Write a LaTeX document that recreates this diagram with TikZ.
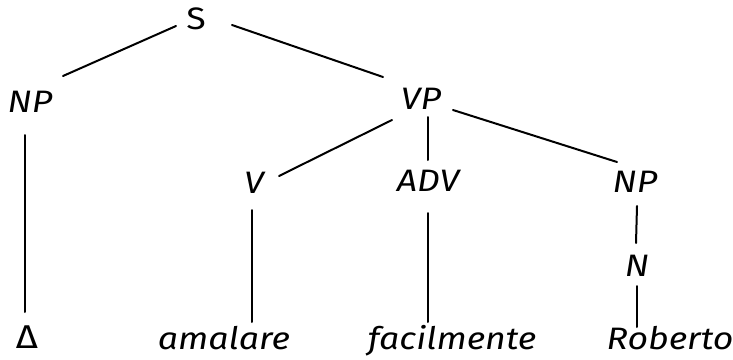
\documentclass[tikz,border=0pt]{standalone}
\usepackage{fontspec}
\setmainfont{Fira Sans}[FakeStretch=1.15]
\usetikzlibrary{calc}
\begin{document}
\begin{tikzpicture}[x=1pt,y=-1pt,
  cat/.style={inner sep=0pt, font=\fontsize{31}{32}\selectfont\itshape},
  word/.style={cat, anchor=base},
  edge/.style={line width=2pt, line cap=round}]
\useasboundingbox (0,0) rectangle (733,359);

% categories
\node[cat, font=\fontsize{31}{32}\selectfont] (S) at (196,19) {S};
\node[cat] (NPa) at (30,102) {NP};
\node[cat] (VP) at (421,99) {VP};
\node[cat] (V) at (254,183) {V};
\node[cat] (ADV) at (428,181) {ADV};
\node[cat] (NPb) at (635,182) {NP};
\node[cat] (N) at (637,266) {N};

% terminals
\node[cat, anchor=base, font=\fontsize{33}{34}\selectfont] (D) at (27,348) {Δ};
\node[word] (amalare) at (224,349) {amalare};
\node[word] (facilmente) at (452,349) {facilmente};
\node[word] (Roberto) at (670,349) {Roberto};

% branches
\draw[edge] ($(S)+(-20,7)$) -- ($(NPa)+(33,-26)$);
\draw[edge] ($(S)+(36,6)$) -- ($(VP)+(-38,-22)$);
\draw[edge] ($(NPa)+(-5,33)$) -- ($(D.base)+(-2,-36)$);
\draw[edge] ($(VP)+(-29,21)$) -- ($(V)+(25,-7)$);
\draw[edge] ($(VP)+(7,18)$) -- ($(ADV)+(0,-21)$);
\draw[edge] ($(VP)+(32,11)$) -- ($(NPb)+(-18,-20)$);
\draw[edge] ($(V)+(-2,27)$) -- ($(amalare.base)+(28,-27)$);
\draw[edge] ($(ADV)+(0,32)$) -- ($(facilmente.base)+(-24,-27)$);
\draw[edge] ($(NPb)+(2,24)$) -- ($(N)+(-1,-23)$);
\draw[edge] ($(N)+(0,20)$) -- ($(Roberto.base)+(-33,-22)$);
\end{tikzpicture}
\end{document}
